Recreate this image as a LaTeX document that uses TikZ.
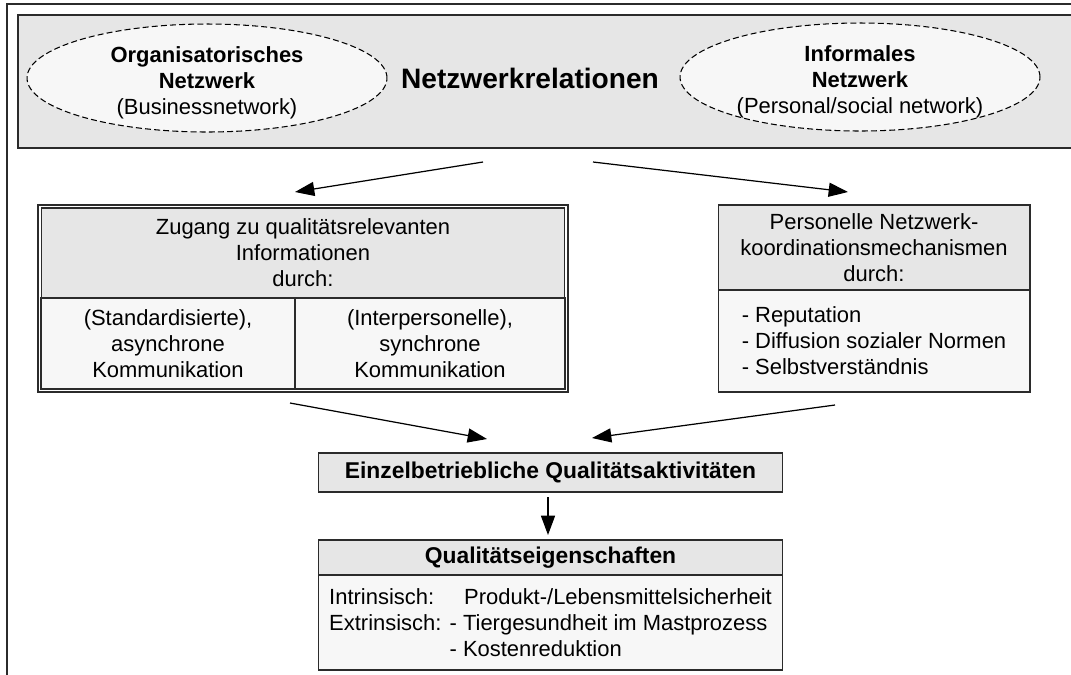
\documentclass[tikz,border=0pt]{standalone}
\usepackage{fontspec}
\setmainfont{Liberation Sans}
\usetikzlibrary{shapes.geometric,arrows.meta}
\definecolor{bandgray}{HTML}{E6E6E6}
\definecolor{paler}{HTML}{F7F7F7}
\definecolor{rim}{HTML}{2B2B2B}

\tikzset{
  txt/.style={font=\fontsize{12.5}{14.8}\selectfont},
  netzell/.style={ellipse, draw=black, dashed, dash pattern=on 3.4pt off 1.8pt, line width=0.6pt, fill=paler, inner sep=0pt, minimum width=7.2cm, minimum height=2.16cm},
  headbox/.style={draw=rim, line width=0.6pt, fill=bandgray, inner sep=0pt, align=center, txt},
  cellbox/.style={draw=rim, line width=0.6pt, fill=paler, inner sep=0pt, align=center, txt},
  arr/.style={-{Triangle[length=11pt,width=8pt]}, line width=0.7pt},
}

\begin{document}
\begin{tikzpicture}[x=0.02cm, y=-0.02cm]
    \useasboundingbox (0,0) rectangle (1071,674);

    % Outer frame
    \draw[rim, line width=0.9pt] (7,680) -- (7,4) -- (1080,4);

    % Band with the two networks
    \draw[rim, line width=0.6pt, fill=bandgray] (18,15) rectangle (1080,148);
    \node[netzell] (orga) at (207,78) {};
    \node[txt, align=center] (orgatext) at (207,83) {\textbf{Organisatorisches}\\\textbf{Netzwerk}\\(Businessnetwork)};
    \node[netzell] (infor) at (860,77) {};
    \node[txt, align=center] (infortext) at (860,82) {\textbf{Informales}\\\textbf{Netzwerk}\\(Personal/social network)};
    \node[font=\fontsize{16}{18}\selectfont\bfseries] (netzrel) at (530,78) {Netzwerkrelationen};

    % Access to information (double frame)
    \draw[rim, line width=0.6pt] (38,205) rectangle (568,392);
    \node[headbox, minimum width=10.48cm, minimum height=1.8cm] (zugang) at (303,253) {Zugang zu qualitätsrelevanten\\Informationen\\durch:};
    \node[cellbox, minimum width=5.08cm, minimum height=1.82cm] (asyn) at (168,343.5) {(Standardisierte),\\asynchrone\\Kommunikation};
    \node[cellbox, minimum width=5.4cm, minimum height=1.82cm] (syn) at (430,343.5) {(Interpersonelle),\\synchrone\\Kommunikation};

    % Coordination mechanisms
    \node[headbox, minimum width=6.24cm, minimum height=1.7cm] (koord) at (874,247.5) {Personelle Netzwerk-\\koordinationsmechanismen\\durch:};
    \node[cellbox, align=left, minimum width=6.24cm, minimum height=2.04cm] (mech) at (874,341) {- Reputation\\- Diffusion sozialer Normen\\- Selbstverständnis};

    % Activities and properties
    \node[headbox, minimum width=9.3cm, minimum height=0.78cm, font=\fontsize{13}{15}\selectfont\bfseries] (aktiv) at (550.5,472.5) {Einzelbetriebliche Qualitätsaktivitäten};
    \node[headbox, minimum width=9.3cm, minimum height=0.7cm, font=\fontsize{13}{15}\selectfont\bfseries] (eigen) at (550.5,557.5) {Qualitätseigenschaften};
    \node[cellbox, align=left, minimum width=9.3cm, minimum height=1.9cm] (liste) at (550.5,622.5) {\makebox[2.7cm][l]{Intrinsisch:}Produkt-/Lebensmittelsicherheit\\Extrinsisch: - Tiergesundheit im Mastprozess\\\phantom{Extrinsisch: }- Kostenreduktion};

    % Arrow ends
    \coordinate (relL) at (483,162);
    \coordinate (relR) at (593,162);
    \coordinate (zugTip) at (295,192);
    \coordinate (koTip) at (848,192);
    \coordinate (zugOut) at (290,403);
    \coordinate (koOut) at (835,405);
    \coordinate (aktL) at (487,439);
    \coordinate (aktR) at (592,438);
    \coordinate (aktOut) at (548,497);
    \coordinate (eigTip) at (548,535);

    \draw[arr] (relL) -- (zugTip);
    \draw[arr] (relR) -- (koTip);
    \draw[arr] (zugOut) -- (aktL);
    \draw[arr] (koOut) -- (aktR);
    \draw[arr] (aktOut) -- (eigTip);
\end{tikzpicture}
\end{document}
